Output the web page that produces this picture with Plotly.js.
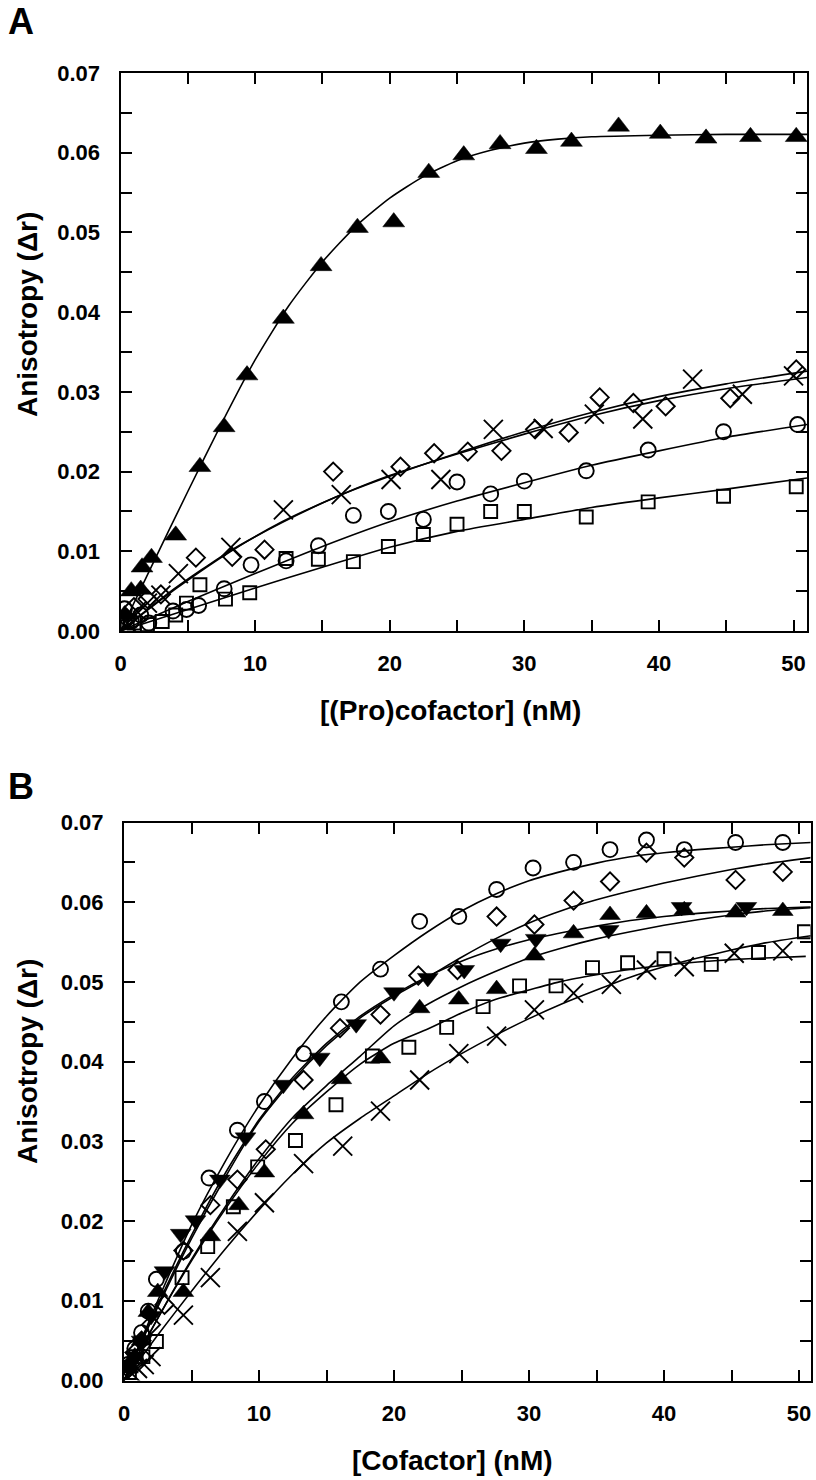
<!DOCTYPE html>
<html>
<head>
<meta charset="utf-8">
<script src="https://cdn.plot.ly/plotly-3.0.1.min.js"></script>
<style>
html,body{margin:0;padding:0;background:#fff;}
#chart{width:816px;height:1480px;}
</style>
</head>
<body>
<div id="chart"></div>
<script>
// ---------------- Panel A data: [(Pro)cofactor] (nM) vs anisotropy ----------------
var aTriX = [0.3, 0.8, 1.5, 1.6, 2.3, 4.1, 5.9, 7.7, 9.4, 12.1, 14.9, 17.6, 20.3, 22.9, 25.5, 28.2, 30.9, 33.5, 37.0, 40.1, 43.5, 46.8, 50.2];
var aTriY = [0.0020, 0.0050, 0.0052, 0.0080, 0.0092, 0.0120, 0.0206, 0.0256, 0.0321, 0.0392, 0.0458, 0.0506, 0.0513, 0.0575, 0.0597, 0.0611, 0.0605, 0.0614, 0.0633, 0.0624, 0.0618, 0.0620, 0.0620];
var aCrossX = [0.5, 1.2, 2.0, 3.0, 4.3, 8.2, 12.1, 16.4, 20.1, 23.8, 27.7, 31.4, 35.2, 38.8, 42.5, 46.2, 50.0];
var aCrossY = [0.0010, 0.0025, 0.0035, 0.0045, 0.0072, 0.0105, 0.0152, 0.0171, 0.0190, 0.0190, 0.0253, 0.0254, 0.0272, 0.0266, 0.0316, 0.0297, 0.0320];
var aDiaX = [0.5, 1.0, 2.0, 3.0, 5.6, 8.3, 10.7, 15.8, 20.8, 23.3, 25.8, 28.3, 30.8, 33.3, 35.6, 38.1, 40.5, 45.3, 50.2];
var aDiaY = [0.0015, 0.0030, 0.0040, 0.0046, 0.0092, 0.0093, 0.0102, 0.0200, 0.0206, 0.0223, 0.0225, 0.0226, 0.0253, 0.0249, 0.0293, 0.0286, 0.0282, 0.0292, 0.0328];
var aCircX = [0.3, 0.8, 1.5, 2.1, 3.9, 4.9, 5.8, 7.7, 9.7, 12.3, 14.7, 17.3, 19.9, 22.5, 25.0, 27.5, 30.0, 34.6, 39.2, 44.8, 50.3];
var aCircY = [0.0028, 0.0012, 0.0020, 0.0010, 0.0025, 0.0027, 0.0032, 0.0053, 0.0083, 0.0088, 0.0107, 0.0145, 0.0150, 0.0140, 0.0187, 0.0172, 0.0188, 0.0201, 0.0227, 0.0250, 0.0259];
var aSqX = [0.5, 1.0, 2.0, 3.1, 4.1, 4.9, 5.9, 7.8, 9.6, 12.3, 14.7, 17.3, 19.9, 22.5, 25.0, 27.5, 30.0, 34.6, 39.2, 44.8, 50.2];
var aSqY = [0.0005, 0.0010, 0.0008, 0.0012, 0.0020, 0.0035, 0.0058, 0.0040, 0.0048, 0.0091, 0.0090, 0.0087, 0.0106, 0.0121, 0.0134, 0.0150, 0.0150, 0.0143, 0.0162, 0.0169, 0.0181];

// fitted curves
var aFitTriX = [0, 2.5, 5, 7.5, 10, 12.5, 15, 17.5, 20, 22.5, 25, 27.5, 30, 32.5, 35, 40, 45, 51];
var aFitTriY = [0, 0.0088, 0.0175, 0.0260, 0.0340, 0.0408, 0.0463, 0.0508, 0.0543, 0.0570, 0.0590, 0.0603, 0.0612, 0.0617, 0.0620, 0.0622, 0.0623, 0.0623];
var aFitCrossX = [0, 4.2, 8.2, 12, 16.4, 20, 25, 30, 35, 40, 45, 51];
var aFitCrossY = [0, 0.0054, 0.0100, 0.0137, 0.0171, 0.0195, 0.0222, 0.0247, 0.0270, 0.0289, 0.0304, 0.0318];
var aFitDiaX = [0, 4, 8, 12, 16, 20, 25, 30, 35, 40, 45, 51];
var aFitDiaY = [0, 0.0053, 0.0099, 0.0136, 0.0168, 0.0194, 0.0223, 0.0250, 0.0274, 0.0294, 0.0310, 0.0326];
var aFitCircX = [0, 5, 10, 15, 20, 25, 30, 35, 40, 45, 51];
var aFitCircY = [0, 0.0037, 0.0072, 0.0106, 0.0137, 0.0163, 0.0186, 0.0208, 0.0226, 0.0243, 0.0259];
var aFitSqX = [0, 5, 10, 15, 20, 25, 30, 35, 40, 45, 51];
var aFitSqY = [0, 0.0027, 0.0054, 0.0080, 0.0105, 0.0125, 0.0140, 0.0155, 0.0167, 0.0178, 0.0192];

// ---------------- Panel B data: [Cofactor] (nM) vs anisotropy ----------------
var bCircX = [0.3, 0.8, 1.3, 1.8, 2.4, 4.4, 6.3, 8.4, 10.4, 13.3, 16.1, 19.0, 21.9, 24.8, 27.6, 30.3, 33.3, 36.0, 38.7, 41.5, 45.3, 48.8];
var bCircY = [0.0020, 0.0040, 0.0060, 0.0087, 0.0127, 0.0162, 0.0254, 0.0314, 0.0350, 0.0410, 0.0475, 0.0516, 0.0576, 0.0582, 0.0616, 0.0643, 0.0650, 0.0666, 0.0678, 0.0666, 0.0675, 0.0675];
var bDiaX = [0.3, 0.8, 1.3, 2.0, 3.0, 4.4, 6.4, 8.4, 10.5, 13.3, 16.0, 19.0, 21.8, 24.7, 27.6, 30.4, 33.3, 36.0, 38.7, 41.5, 45.3, 48.8];
var bDiaY = [0.0015, 0.0035, 0.0050, 0.0070, 0.0095, 0.0163, 0.0220, 0.0252, 0.0290, 0.0377, 0.0442, 0.0459, 0.0508, 0.0515, 0.0582, 0.0572, 0.0602, 0.0626, 0.0662, 0.0656, 0.0628, 0.0638];
var bDownX = [0.3, 0.8, 1.3, 2.0, 3.0, 4.2, 5.3, 7.1, 9.0, 11.8, 14.5, 17.2, 20.0, 22.5, 25.2, 27.9, 30.5, 35.9, 41.3, 46.1];
var bDownY = [0.0020, 0.0030, 0.0050, 0.0081, 0.0137, 0.0184, 0.0201, 0.0252, 0.0305, 0.0371, 0.0405, 0.0447, 0.0487, 0.0505, 0.0515, 0.0548, 0.0554, 0.0565, 0.0594, 0.0594];
var bUpX = [0.3, 0.8, 1.3, 1.8, 2.5, 4.4, 6.4, 8.5, 10.4, 13.3, 16.1, 19.0, 21.9, 24.8, 27.6, 30.4, 33.3, 36.0, 38.7, 41.5, 45.3, 48.8];
var bUpY = [0.0015, 0.0030, 0.0050, 0.0086, 0.0111, 0.0111, 0.0181, 0.0220, 0.0261, 0.0334, 0.0378, 0.0404, 0.0467, 0.0478, 0.0491, 0.0533, 0.0561, 0.0584, 0.0586, 0.0590, 0.0587, 0.0589];
var bSqX = [0.4, 0.9, 1.4, 2.4, 4.3, 6.2, 8.1, 9.9, 12.7, 15.7, 18.4, 21.1, 23.9, 26.6, 29.3, 32.0, 34.7, 37.3, 40.0, 43.5, 47.0, 50.4];
var bSqY = [0.0010, 0.0030, 0.0030, 0.0049, 0.0129, 0.0168, 0.0218, 0.0268, 0.0301, 0.0346, 0.0407, 0.0418, 0.0443, 0.0469, 0.0495, 0.0495, 0.0518, 0.0524, 0.0529, 0.0522, 0.0537, 0.0563];
var bCrossX = [0.5, 1.0, 1.5, 2.0, 4.4, 6.4, 8.4, 10.4, 13.3, 16.2, 19.0, 21.9, 24.8, 27.6, 30.4, 33.3, 36.1, 38.7, 41.5, 45.2, 48.8];
var bCrossY = [0.0010, 0.0015, 0.0020, 0.0030, 0.0082, 0.0129, 0.0187, 0.0223, 0.0272, 0.0294, 0.0338, 0.0377, 0.0410, 0.0432, 0.0465, 0.0486, 0.0497, 0.0515, 0.0519, 0.0536, 0.0539];

var bFitX = [0, 2.5, 5, 7.5, 10, 12.5, 15, 17.5, 20, 22.5, 25, 27.5, 30, 32.5, 35, 37.5, 40, 42.5, 45, 47.5, 50.9];
var bFitSqX = [0, 2.5, 5, 7.5, 10, 12.5, 15, 17.5, 20, 22.5, 25, 27.5, 30, 32.5, 35, 37.5, 40, 42.5, 45, 47.5, 50.5];
var bFitCircY  = [0, 0.0100, 0.0195, 0.0275, 0.0345, 0.0405, 0.0457, 0.0500, 0.0533, 0.0563, 0.0589, 0.0610, 0.0627, 0.0639, 0.0649, 0.0657, 0.0662, 0.0666, 0.0669, 0.0672, 0.0675];
var bFitDiaY   = [0, 0.0092, 0.0178, 0.0255, 0.0325, 0.0377, 0.0420, 0.0455, 0.0482, 0.0506, 0.0531, 0.0554, 0.0574, 0.0590, 0.0603, 0.0614, 0.0624, 0.0633, 0.0641, 0.0648, 0.0656];
var bFitDownY  = [0, 0.0095, 0.0182, 0.0260, 0.0327, 0.0380, 0.0423, 0.0457, 0.0484, 0.0507, 0.0526, 0.0541, 0.0553, 0.0562, 0.0570, 0.0577, 0.0582, 0.0586, 0.0589, 0.0592, 0.0594];
var bFitUpY    = [0, 0.0078, 0.0152, 0.0218, 0.0278, 0.0330, 0.0370, 0.0407, 0.0445, 0.0472, 0.0494, 0.0513, 0.0530, 0.0543, 0.0554, 0.0563, 0.0571, 0.0578, 0.0584, 0.0589, 0.0593];
var bFitSqY    = [0, 0.0078, 0.0150, 0.0215, 0.0273, 0.0323, 0.0362, 0.0397, 0.0423, 0.0441, 0.0461, 0.0478, 0.0490, 0.0501, 0.0509, 0.0516, 0.0521, 0.0525, 0.0528, 0.0530, 0.0532];
var bFitCrossY = [0, 0.0057, 0.0112, 0.0165, 0.0214, 0.0259, 0.0298, 0.0329, 0.0357, 0.0385, 0.0410, 0.0433, 0.0454, 0.0473, 0.0490, 0.0506, 0.0519, 0.0530, 0.0540, 0.0549, 0.0558];

var yTicks = [0, 0.01, 0.02, 0.03, 0.04, 0.05, 0.06, 0.07];
var yTickText = ['0.00', '0.01', '0.02', '0.03', '0.04', '0.05', '0.06', '0.07'];
var xTicks = [0, 10, 20, 30, 40, 50];

// ---------------- build ----------------
var FONT = 'Liberation Sans, Arial, Helvetica, sans-serif';
function fit(x, y, xa, ya) {
  return {x: x, y: y, xaxis: xa, yaxis: ya, type: 'scatter', mode: 'lines',
          line: {color: '#000', width: 1.6, shape: 'spline', smoothing: 0.6},
          hoverinfo: 'skip', showlegend: false};
}
function pts(x, y, xa, ya, symbol, size, filled) {
  return {x: x, y: y, xaxis: xa, yaxis: ya, type: 'scatter', mode: 'markers',
          marker: {symbol: symbol, size: size, color: '#000',
                   line: {color: '#000', width: filled ? 0.5 : 1.9}},
          cliponaxis: true, showlegend: false};
}

var data = [
  fit(aFitTriX, aFitTriY, 'x', 'y'),
  fit(aFitCrossX, aFitCrossY, 'x', 'y'),
  fit(aFitDiaX, aFitDiaY, 'x', 'y'),
  fit(aFitCircX, aFitCircY, 'x', 'y'),
  fit(aFitSqX, aFitSqY, 'x', 'y'),
  pts(aSqX, aSqY, 'x', 'y', 'square-open', 13, false),
  pts(aCircX, aCircY, 'x', 'y', 'circle-open', 15, false),
  pts(aDiaX, aDiaY, 'x', 'y', 'diamond-open', 14, false),
  pts(aCrossX, aCrossY, 'x', 'y', 'x-thin-open', 19, false),
  pts(aTriX, aTriY, 'x', 'y', 'triangle-up', 19, true),

  fit(bFitX, bFitCircY, 'x2', 'y2'),
  fit(bFitX, bFitDiaY, 'x2', 'y2'),
  fit(bFitX, bFitDownY, 'x2', 'y2'),
  fit(bFitX, bFitUpY, 'x2', 'y2'),
  fit(bFitSqX, bFitSqY, 'x2', 'y2'),
  fit(bFitX, bFitCrossY, 'x2', 'y2'),
  pts(bSqX, bSqY, 'x2', 'y2', 'square-open', 13, false),
  pts(bCircX, bCircY, 'x2', 'y2', 'circle-open', 15, false),
  pts(bDiaX, bDiaY, 'x2', 'y2', 'diamond-open', 14, false),
  pts(bCrossX, bCrossY, 'x2', 'y2', 'x-thin-open', 19, false),
  pts(bUpX, bUpY, 'x2', 'y2', 'triangle-up', 18, true),
  pts(bDownX, bDownY, 'x2', 'y2', 'triangle-down', 18, true)
];

function xax(domain, range, anchor) {
  return {domain: domain, range: range, anchor: anchor, showgrid: false, zeroline: false,
          showline: true, linecolor: '#000', linewidth: 2, mirror: 'ticks',
          ticks: 'inside', ticklen: 11, tickwidth: 2, tickcolor: '#000',
          tickvals: xTicks, ticktext: xTicks.map(String), ticklabelstandoff: 12,
          minor: {dtick: 5, tick0: 0, ticks: 'inside', ticklen: 11, tickwidth: 2, tickcolor: '#000', showgrid: false},
          tickfont: {family: FONT, size: 22, color: '#000', weight: 'bold'}};
}
function yax(domain, anchor) {
  return {domain: domain, range: [0, 0.07], anchor: anchor, showgrid: false, zeroline: false,
          showline: true, linecolor: '#000', linewidth: 2, mirror: 'ticks',
          ticks: 'inside', ticklen: 11, tickwidth: 2, tickcolor: '#000',
          tickvals: yTicks, ticktext: yTickText, ticklabelstandoff: 14,
          minor: {dtick: 0.005, tick0: 0, ticks: 'inside', ticklen: 11, tickwidth: 2, tickcolor: '#000', showgrid: false},
          tickfont: {family: FONT, size: 22, color: '#000', weight: 'bold'}};
}

var W = 816, H = 1480;
var TITLE = 28;
var layout = {
  width: W, height: H,
  margin: {l: 0, r: 0, t: 0, b: 0},
  paper_bgcolor: '#fff', plot_bgcolor: '#fff',
  showlegend: false,
  xaxis:  xax([120.5 / W, 807 / W], [0, 51], 'y'),
  yaxis:  yax([(H - 631) / H, (H - 73) / H], 'x'),
  xaxis2: xax([124 / W, 810.5 / W], [0, 50.85], 'y2'),
  yaxis2: yax([(H - 1380.5) / H, (H - 822.5) / H], 'x2'),
  annotations: [
    {text: '<b>A</b>', xref: 'paper', yref: 'paper', x: 6 / W, y: 1 - 22 / H, xanchor: 'left', yanchor: 'middle',
     showarrow: false, font: {family: FONT, size: 36, color: '#000'}},
    {text: '<b>B</b>', xref: 'paper', yref: 'paper', x: 6 / W, y: 1 - 786 / H, xanchor: 'left', yanchor: 'middle',
     showarrow: false, font: {family: FONT, size: 36, color: '#000'}},
    {text: '<b>Anisotropy (\u0394r)</b>', xref: 'paper', yref: 'paper', x: 27 / W, y: 1 - 315 / H, xanchor: 'center', yanchor: 'middle',
     textangle: -90, showarrow: false, font: {family: FONT, size: TITLE, color: '#000'}},
    {text: '<b>Anisotropy (\u0394r)</b>', xref: 'paper', yref: 'paper', x: 27 / W, y: 1 - 1062 / H, xanchor: 'center', yanchor: 'middle',
     textangle: -90, showarrow: false, font: {family: FONT, size: TITLE, color: '#000'}},
    {text: '<b>[(Pro)cofactor] (nM)</b>', xref: 'paper', yref: 'paper', x: 450 / W, y: 1 - 710 / H, xanchor: 'center', yanchor: 'middle',
     showarrow: false, font: {family: FONT, size: TITLE, color: '#000'}},
    {text: '<b>[Cofactor] (nM)</b>', xref: 'paper', yref: 'paper', x: 452 / W, y: 1 - 1460 / H, xanchor: 'center', yanchor: 'middle',
     showarrow: false, font: {family: FONT, size: TITLE, color: '#000'}}
  ]
};

Plotly.newPlot('chart', data, layout, {displayModeBar: false, staticPlot: true});
</script>
</body>
</html>
